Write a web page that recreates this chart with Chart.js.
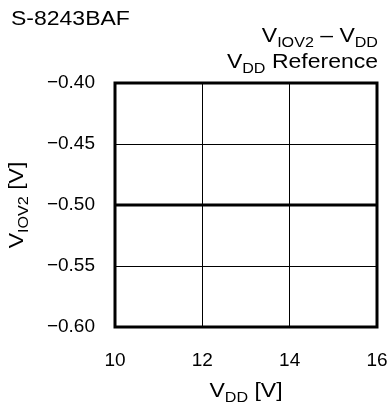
<!DOCTYPE html>
<html>
<head>
<meta charset="utf-8">
<script src="https://cdn.jsdelivr.net/npm/chart.js@4"></script>
<style>
  body { margin: 0; background: #fff; }
  #wrap { width: 391px; height: 405px; position: relative; }
</style>
</head>
<body>
<div id="wrap"><canvas id="vddChart"></canvas></div>
<script>
const vdd = [10, 11, 12, 13, 14, 15, 16];
const viov2 = [-0.50, -0.50, -0.50, -0.50, -0.50, -0.50, -0.50];
const xTicks = [10, 12, 14, 16];
const yTicks = [-0.60, -0.55, -0.50, -0.45, -0.40];

const FONT = "'Liberation Sans', Arial, sans-serif";
const STRETCH = 1.15; // the original lettering is a bit wide

// draw text with subscript parts: parts = [[text, isSub], ...]
function richText(ctx, parts, x, y, align) {
  const big = "20px " + FONT, small = "14px " + FONT;
  let total = 0;
  parts.forEach(p => { ctx.font = p[1] ? small : big; total += ctx.measureText(p[0]).width; });
  total *= STRETCH;
  let cx = align === "right" ? x - total : align === "center" ? x - total / 2 : x;
  ctx.save();
  ctx.translate(cx, y);
  ctx.scale(STRETCH, 1);
  ctx.textAlign = "left";
  ctx.textBaseline = "alphabetic";
  let off = 0;
  parts.forEach(p => {
    ctx.font = p[1] ? small : big;
    ctx.fillText(p[0], off, p[1] ? 5 : 0);
    off += ctx.measureText(p[0]).width;
  });
  ctx.restore();
}

const labelsPlugin = {
  id: "labels",
  afterDraw(chart) {
    const ctx = chart.ctx;
    const a = chart.chartArea;
    ctx.save();
    // plot frame
    ctx.strokeStyle = "#000";
    ctx.lineWidth = 3;
    ctx.strokeRect(a.left, a.top, a.right - a.left, a.bottom - a.top);
    ctx.fillStyle = "#000";
    richText(ctx, [["S-8243BAF", false]], 11, 25, "left");
    richText(ctx, [["V", false], ["IOV2", true], [" \u2013 V", false], ["DD", true]], 378, 42, "right");
    richText(ctx, [["V", false], ["DD", true], [" Reference", false]], 378, 68, "right");
    richText(ctx, [["V", false], ["DD", true], [" [V]", false]], (a.left + a.right) / 2, 397, "center");
    ctx.translate(23, (a.top + a.bottom) / 2);
    ctx.rotate(-Math.PI / 2);
    richText(ctx, [["V", false], ["IOV2", true], [" [V]", false]], 0, 0, "center");
    ctx.restore();
  }
};

const ctx = document.getElementById("vddChart");
const vddChart = new Chart(ctx, {
  type: "line",
  data: {
    labels: vdd,
    datasets: [{
      data: vdd.map((v, i) => ({ x: v, y: viov2[i] })),
      borderColor: "#000",
      borderWidth: 3,
      pointRadius: 0,
      tension: 0,
    }],
  },
  options: {
    responsive: true,
    maintainAspectRatio: false,
    animation: false,
    layout: { padding: { top: 83, right: 14, left: 0, bottom: 0 } },
    plugins: { legend: { display: false }, tooltip: { enabled: false } },
    scales: {
      x: {
        type: "linear",
        min: 10,
        max: 16,
        afterFit: s => { s.height = 78; s.paddingLeft = 0; s.paddingRight = 0; },
        afterBuildTicks: s => { s.ticks = xTicks.map(v => ({ value: v })); },
        grid: { color: "#000", lineWidth: 1, drawTicks: false },
        border: { display: false },
        ticks: { color: "#000", padding: 22, font: { size: 19, family: FONT } },
      },
      y: {
        min: -0.60,
        max: -0.40,
        afterFit: s => { s.width = 115; s.paddingTop = 0; s.paddingBottom = 0; },
        afterBuildTicks: s => { s.ticks = yTicks.map(v => ({ value: v })); },
        grid: { color: "#000", lineWidth: 1, drawTicks: false },
        border: { display: false },
        ticks: {
          color: "#000",
          padding: 20,
          font: { size: 19, family: FONT },
          callback: v => (v < 0 ? "\u2212" : "") + Math.abs(v).toFixed(2),
        },
      },
    },
  },
  plugins: [labelsPlugin],
});
</script>
</body>
</html>
